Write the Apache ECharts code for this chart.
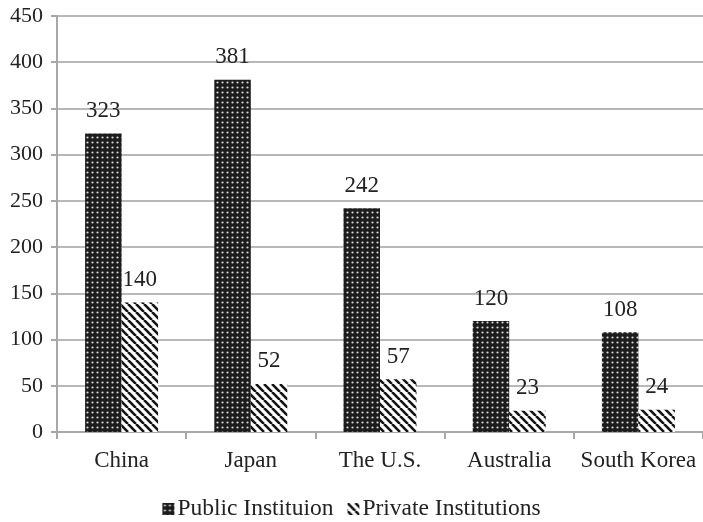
<!DOCTYPE html>
<html>
<head>
<meta charset="utf-8">
<script src="https://cdn.jsdelivr.net/npm/echarts@6/dist/echarts.min.js"></script>
<style>
  html, body { margin: 0; padding: 0; background: #fff; }
  #chart { width: 703px; height: 522px; }
</style>
</head>
<body>
<div id="chart"></div>
<script>
// Institutions by country, public vs private
const categories = ['China', 'Japan', 'The U.S.', 'Australia', 'South Korea'];
const publicValues = [323, 381, 242, 120, 108];
const privateValues = [140, 52, 57, 23, 24];
const seriesNames = ['Public Instituion', 'Private Institutions'];

// Dark fill with a grid of light dots
function dotPattern() {
  const c = document.createElement('canvas');
  c.width = 5; c.height = 5;
  const g = c.getContext('2d');
  g.fillStyle = '#1c1c1c';
  g.fillRect(0, 0, 5, 5);
  g.fillStyle = '#d8d8d8';
  g.beginPath();
  g.arc(2.5, 2.5, 1.1, 0, Math.PI * 2);
  g.fill();
  return c;
}

// White fill with thick back-slash stripes
function stripePattern() {
  const s = 8;
  const c = document.createElement('canvas');
  c.width = s; c.height = s;
  const g = c.getContext('2d');
  g.fillStyle = '#ffffff';
  g.fillRect(0, 0, s, s);
  g.strokeStyle = '#141414';
  g.lineWidth = 2.6;
  g.beginPath();
  for (let k = -1; k <= 1; k++) {
    g.moveTo(k * s, 0);
    g.lineTo(k * s + s, s);
  }
  g.stroke();
  return c;
}

const font = '"Liberation Serif", "Times New Roman", serif';
const chart = echarts.init(document.getElementById('chart'), null, { renderer: 'canvas' });

const labelStyle = {
  show: true,
  position: 'top',
  distance: 11,
  fontFamily: font,
  fontSize: 23,
  color: '#222'
};

chart.setOption({
  animation: false,
  backgroundColor: '#ffffff',
  textStyle: { fontFamily: font },
  grid: { left: 57, right: -5, top: 16, bottom: 90, containLabel: false },
  legend: {
    top: 492,
    left: 'center',
    itemWidth: 12,
    itemHeight: 12,
    itemGap: 14,
    textStyle: { fontFamily: font, fontSize: 23.5, color: '#222', padding: [0, 0, 0, -2] },
    data: seriesNames.map(n => ({ name: n, icon: 'rect' }))
  },
  xAxis: {
    type: 'category',
    data: categories,
    axisLine: { show: true, lineStyle: { color: '#a8a8a8', width: 2 } },
    axisTick: { show: true, alignWithLabel: false, length: 7, lineStyle: { color: '#a8a8a8', width: 2 } },
    axisLabel: { interval: 0, fontFamily: font, fontSize: 23, color: '#222', margin: 17 }
  },
  yAxis: {
    type: 'value',
    min: 0,
    max: 450,
    interval: 50,
    axisLine: { show: true, lineStyle: { color: '#a8a8a8', width: 2 } },
    axisTick: { show: true, length: 6, lineStyle: { color: '#a8a8a8', width: 2 } },
    axisLabel: { fontFamily: font, fontSize: 22, color: '#222', margin: 14 },
    splitLine: { show: true, lineStyle: { color: '#b8b8b8', width: 2 } }
  },
  series: [
    {
      name: seriesNames[0],
      type: 'bar',
      data: publicValues,
      barWidth: 36.5,
      barGap: '0%',
      itemStyle: { color: { image: dotPattern(), repeat: 'repeat' } },
      label: labelStyle
    },
    {
      name: seriesNames[1],
      type: 'bar',
      data: privateValues,
      barWidth: 36.5,
      barGap: '0%',
      itemStyle: { color: { image: stripePattern(), repeat: 'repeat' } },
      label: labelStyle
    }
  ]
});
</script>
</body>
</html>
